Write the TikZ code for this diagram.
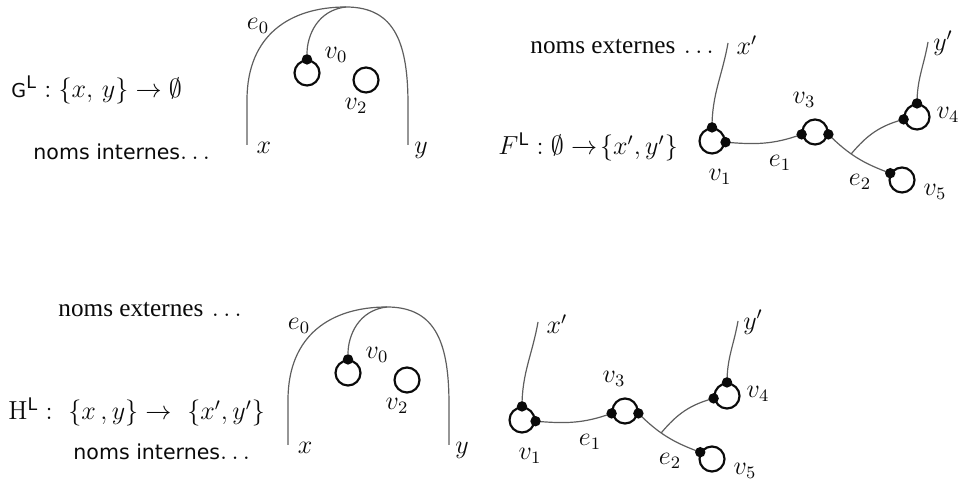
\documentclass[12pt,tikz,border=0pt]{standalone}
\usepackage{amsmath,amssymb}
\usepackage{fontspec}
\newfontfamily\sansnoms{DejaVu Sans}
\newfontfamily\serifnoms{Liberation Serif}
\usepackage{tikz}
\definecolor{GraphInk}{HTML}{0A0A0A}
\definecolor{GraphWire}{HTML}{5E5E5E}

% graphe interne : une arete e0 et deux sommets
\newcommand{\internalgraph}{%
  \node[vertex] (v0) at (307,73) {};
  \node[vertex] (v2) at (366,80) {};
  \node[port] (p0) at (v0.north) {};
  \coordinate (xleg) at (247,145);
  \coordinate (yleg) at (408,145);
  \coordinate (top) at (346,7);
  \draw[wire] (xleg) -- (247,100) .. controls (247,35) and (290,7) .. (top)
    .. controls (396,7) and (408,45) .. (408,105) -- (yleg);
  \draw[wire] (top) .. controls (318,10) and (307,35) .. (p0);
  \node[lbl] (le0) at (258,26) {$e_0$};
  \node[lbl] (lv0) at (336,55) {$v_0$};
  \node[lbl] (lv2) at (356,106) {$v_2$};
  \node[lbl] (lx) at (264,148) {$x$};
  \node[lbl] (ly) at (421,150) {$y$};
}

% graphe externe : sommets v1, v3, v4, v5
\newcommand{\externalgraph}{%
  \node[vertex] (v1) at (712,141) {};
  \node[vertex] (v3) at (815,132) {};
  \node[vertex] (v4) at (917,117) {};
  \node[vertex] (v5) at (902,180) {};
  \coordinate (xout) at (728,43);
  \coordinate (yout) at (928,42);
  \draw[wire] (xout) to[out=-100,in=90] (v1.north);
  \draw[wire] (yout) to[out=-100,in=90] (v4.north);
  \draw[wire] (v1.-5) to[out=-5,in=200] (v3.190);
  \draw[wire] (v3.-10) to[out=-45,in=160] coordinate[pos=0.4] (fork) (v5.150);
  \draw[wire] (fork) to[out=50,in=195] (v4.190);
  \node[port] (p1t) at (v1.north) {};
  \node[port] (p1r) at (v1.-5) {};
  \node[port] (p3l) at (v3.190) {};
  \node[port] (p3r) at (v3.-10) {};
  \node[port] (p4t) at (v4.north) {};
  \node[port] (p4l) at (v4.190) {};
  \node[port] (p5) at (v5.150) {};
  \node[lbl] (lxo) at (747,45) {$x'$};
  \node[lbl] (lyo) at (943,43) {$y'$};
  \node[lbl] (lv1) at (720,177) {$v_1$};
  \node[lbl] (le1) at (780,163) {$e_1$};
  \node[lbl] (lv3) at (804,100) {$v_3$};
  \node[lbl] (le2) at (860,182) {$e_2$};
  \node[lbl] (lv4) at (948,115) {$v_4$};
  \node[lbl] (lv5) at (935,192) {$v_5$};
}

\begin{document}
\begin{tikzpicture}[x=0.46pt,y=-0.46pt,
    vertex/.style={circle,draw=GraphInk,line width=1pt,minimum size=11.5pt,inner sep=0pt},
    port/.style={circle,fill=GraphInk,minimum size=4.8pt,inner sep=0pt},
    wire/.style={draw=GraphWire,line width=0.55pt},
    lbl/.style={inner sep=0pt,text=GraphInk},
    names/.style={inner sep=0pt,anchor=west,text=GraphInk}]
  \useasboundingbox (0,0) rectangle (961,482);

  % G^L : en haut a gauche
  \begin{scope}[name prefix=G-]
    \internalgraph
  \end{scope}
  \node[names] (gtype) at (11,90)
    {$\text{\fontsize{8.8}{10}\sansnoms G}^{\text{\sansnoms L}} : \{x,\,y\}\rightarrow\emptyset$};
  \node[names] (gint) at (33,152) {{\fontsize{9.45}{11}\sansnoms noms internes}$\ldots$};

  % F^L : en haut a droite
  \begin{scope}[name prefix=F-]
    \externalgraph
  \end{scope}
  \node[names] (fext) at (530,47) {{\fontsize{11.6}{13}\serifnoms noms externes} $\ldots$};
  \node[names] (ftype) at (498,147)
    {$F^{\text{\sansnoms L}} : \emptyset\rightarrow\!\{x',y'\}$};

  % H^L : en bas
  \begin{scope}[name prefix=H-,shift={(41,300)}]
    \internalgraph
  \end{scope}
  \begin{scope}[name prefix=HF-,shift={(-190,279)}]
    \externalgraph
  \end{scope}
  \node[names] (hext) at (58,310) {{\fontsize{11.6}{13}\serifnoms noms externes} $\ldots$};
  \node[names] (htype) at (8,412)
    {$\mathrm{H}^{\text{\sansnoms L}} :\ \{x\,,y\}\rightarrow\ \{x',y'\}$};
  \node[names] (hint) at (73,452) {{\fontsize{9.45}{11}\sansnoms noms internes}$\ldots$};
\end{tikzpicture}
\end{document}
